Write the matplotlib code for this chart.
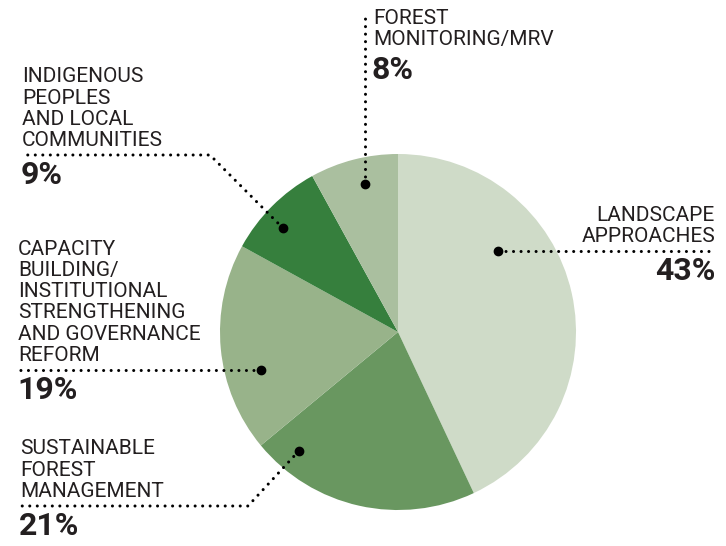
import matplotlib.pyplot as plt
import numpy as np

# data
categories = [
    "LANDSCAPE\nAPPROACHES",
    "SUSTAINABLE\nFOREST\nMANAGEMENT",
    "CAPACITY\nBUILDING/\nINSTITUTIONAL\nSTRENGTHENING\nAND GOVERNANCE\nREFORM",
    "INDIGENOUS\nPEOPLES\nAND LOCAL\nCOMMUNITIES",
    "FOREST\nMONITORING/MRV",
]
shares = [43, 21, 19, 9, 8]
colors = ["#cfdbc8", "#699760", "#98b38a", "#367f3d", "#aabf9f"]

TEXT = "#231f20"
W, H = 726, 546
CENTER = (398, 332)
RADIUS = 178

# leader layout: dot position inside wedge (fraction of angle, fraction of radius),
# extra path points after the dot, label anchor
leaders = [
    dict(frac=0.33, rad=0.72, path=[(715, None)], side="right"),
    dict(frac=0.86, rad=0.87, path=[(248, 506), (20, 506)], side="left"),
    dict(frac=0.354, rad=0.80, path=[(18, None)], side="left"),
    dict(frac=0.41, rad=0.87, path=[(210, 155), (22, 155)], side="left"),
    dict(frac=0.56, rad=0.85, path=[(None, 14)], side="top"),
]

fig = plt.figure(figsize=(W / 100, H / 100), dpi=100)
ax = fig.add_axes([0, 0, 1, 1])

wedges, _ = ax.pie(shares, colors=colors, startangle=-90, counterclock=True,
                   center=CENTER, radius=RADIUS,
                   wedgeprops=dict(linewidth=0))
ax.set_xlim(0, W)
ax.set_ylim(H, 0)
ax.axis("off")

dot_style = dict(color="black", linewidth=2.2, linestyle=(0, (0.01, 2.45)),
                 dash_capstyle="round", solid_capstyle="round")
label_font = dict(family="Roboto", fontsize=15, color=TEXT, linespacing=1.15)
pct_font = dict(family="Roboto", fontsize=23, fontweight="bold", color=TEXT)

for wedge, name, share, lead in zip(wedges, categories, shares, leaders):
    theta = np.deg2rad(wedge.theta1 + lead["frac"] * (wedge.theta2 - wedge.theta1))
    dx = CENTER[0] + lead["rad"] * RADIUS * np.cos(theta)
    dy = CENTER[1] + lead["rad"] * RADIUS * np.sin(theta)

    xs, ys = [dx], [dy]
    for px, py in lead["path"]:
        xs.append(px if px is not None else xs[-1])
        ys.append(py if py is not None else ys[-1])
    ax.plot(xs, ys, **dot_style)
    ax.plot(dx, dy, "o", color="black", markersize=6, zorder=5)

    pct = f"{share}%"
    if lead["side"] == "left":
        x0, y0 = xs[-1], ys[-1]
        ax.text(x0, y0 - 5, name, ha="left", va="bottom", **label_font)
        ax.text(x0 - 1, y0 + 5, pct, ha="left", va="top", **pct_font)
    elif lead["side"] == "right":
        x0, y0 = xs[-1], ys[-1]
        ax.text(x0, y0 - 5, name, ha="right", va="bottom", **label_font)
        ax.text(x0 + 1, y0 + 5, pct, ha="right", va="top", **pct_font)
    else:
        x0 = xs[-1] + 8
        ax.text(x0, 9, name, ha="left", va="top", **label_font)
        ax.text(x0 - 1, 55, pct, ha="left", va="top", **pct_font)

fig.savefig("out.png", dpi=100)
